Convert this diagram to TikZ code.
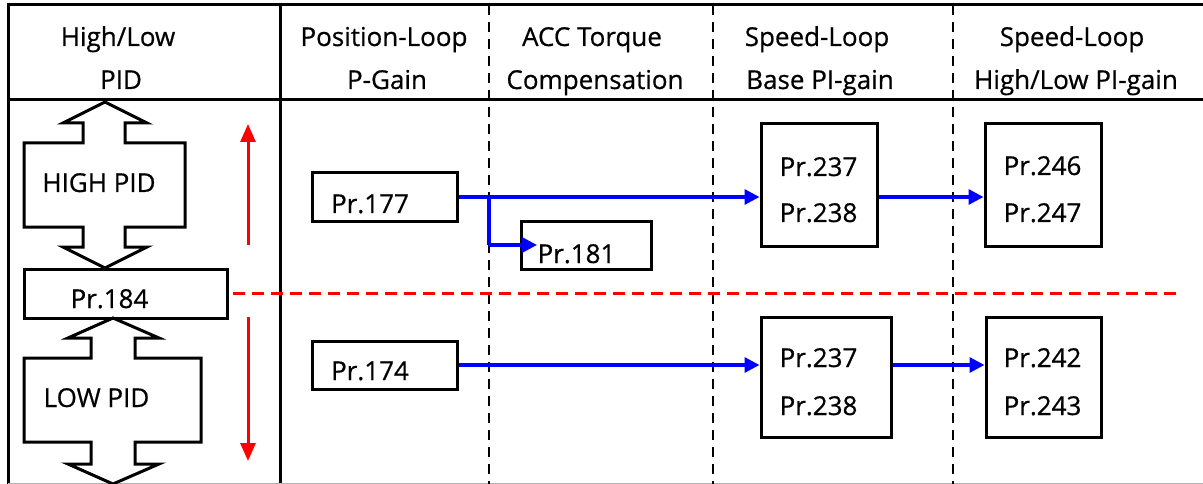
\documentclass[tikz,border=0pt]{standalone}
\usepackage{fontspec}
\setmainfont{Open Sans}
\newfontfamily\lblfont{Open Sans}[FakeBold=0.6]
\usetikzlibrary{arrows.meta}
\tikzset{
  lbl/.style={font=\lblfont\fontsize{26}{30}\selectfont, anchor=base, inner sep=0pt},
  pbox/.style={draw, line width=3pt, inner sep=0pt},
  frameline/.style={line width=3pt},
  coldash/.style={line width=2.5pt, dash pattern=on 10pt off 7pt},
  blarrow/.style={draw=blue, line width=3.2pt, -{Triangle[length=15pt,width=15pt]}},
  blline/.style={draw=blue, line width=3.2pt},
  rarrow/.style={draw=red, line width=3pt, -{Triangle[length=18pt,width=15pt]}},
  rdash/.style={draw=red, line width=3pt, dash pattern=on 12pt off 7pt},
  dblarrow/.style={draw, line width=3pt, line join=miter},
}
\begin{document}
\begin{tikzpicture}[x=1pt,y=-1pt]
\useasboundingbox (0,0) rectangle (1203,484);
\fill[white] (0,0) rectangle (1203,484);
% frame
\draw[frameline] (8,484) -- (8,5) -- (1203,5);
\draw[frameline] (8,100) -- (1203,100);
\draw[frameline] (280,5) -- (280,484);
\draw[gray!60, line width=1pt] (8,483.5) -- (1203,483.5);
\draw[coldash] (489,5) -- (489,484);
\draw[coldash] (713,5) -- (713,484);
\draw[coldash] (953,5) -- (953,484);
% headers
\node[lbl] (h1a) at (118,46) {High/Low};
\node[lbl] (h1b) at (121,89) {PID};
\node[lbl] (h2a) at (384,46) {Position-Loop};
\node[lbl] (h2b) at (387,89) {P-Gain};
\node[lbl] (h3a) at (592,46) {ACC Torque};
\node[lbl] (h3b) at (595,89) {Compensation};
\node[lbl] (h4a) at (817,46) {Speed-Loop};
\node[lbl] (h4b) at (820,89) {Base PI-gain};
\node[lbl] (h5a) at (1072,46) {Speed-Loop};
\node[lbl] (h5b) at (1076,89) {High/Low PI-gain};
% left column double arrows
\draw[dblarrow] (105,102) -- (147,123) -- (125,123) -- (125,143) -- (185,143) -- (185,227) -- (125,227) -- (125,247) -- (147,247) -- (105,268) -- (63,247) -- (83,247) -- (83,227) -- (24,227) -- (24,143) -- (83,143) -- (83,123) -- (63,123) -- cycle;
\node[lbl] (thigh) at (99,192) {HIGH PID};
\node[pbox, minimum width=203pt, minimum height=49pt] (p184) at (125.5,293.5) {};
\node[lbl] (t184) at (109.5,308) {Pr.184};
\draw[dblarrow] (113,318) -- (159,338) -- (135,338) -- (135,358) -- (201,358) -- (201,442) -- (135,442) -- (135,464) -- (159,464) -- (113,484) -- (68,464) -- (91,464) -- (91,442) -- (24,442) -- (24,358) -- (91,358) -- (91,338) -- (68,338) -- cycle;
\node[lbl] (tlow) at (96.5,407) {LOW PID};
% red arrows and dashed line
\coordinate (ru0) at (248,245);
\coordinate (ru1) at (248,124);
\coordinate (rd0) at (248,317);
\coordinate (rd1) at (248,461);
\draw[rarrow] (ru0) -- (ru1);
\draw[rarrow] (rd0) -- (rd1);
\coordinate (rl0) at (233,293);
\coordinate (rl1) at (1180,293);
\draw[rdash] (rl0) -- (rl1);
% upper boxes
\node[pbox, minimum width=145pt, minimum height=48pt] (p177) at (384.5,197) {};
\node[lbl] (t177) at (370,213) {Pr.177};
\node[pbox, minimum width=130pt, minimum height=48pt] (p181) at (586,245) {};
\node[lbl] (t181) at (576.5,263) {Pr.181};
\node[pbox, minimum width=116pt, minimum height=122pt] (b1) at (819,185) {};
\node[lbl] (t237a) at (818.5,176) {Pr.237};
\node[lbl] (t238a) at (818.5,222) {Pr.238};
\node[pbox, minimum width=116pt, minimum height=122pt] (b2) at (1043,185) {};
\node[lbl] (t246) at (1042.5,175) {Pr.246};
\node[lbl] (t247) at (1042.5,222) {Pr.247};
% lower boxes
\node[pbox, minimum width=145pt, minimum height=48pt] (p174) at (384.5,365) {};
\node[lbl] (t174) at (370,380) {Pr.174};
\node[pbox, minimum width=130pt, minimum height=120pt] (b3) at (826,377) {};
\node[lbl] (t237b) at (818.5,367) {Pr.237};
\node[lbl] (t238b) at (818.5,415) {Pr.238};
\node[pbox, minimum width=115pt, minimum height=120pt] (b4) at (1043.5,377) {};
\node[lbl] (t242) at (1042.5,367) {Pr.242};
\node[lbl] (t243) at (1042.5,415) {Pr.243};
% blue connectors
\coordinate (jn) at (489,197);
\coordinate (tip181) at (537,245);
\draw[blarrow] (p177.east) -- (p177.east -| b1.west);
\draw[blline] (jn) -- (jn |- tip181);
\draw[blarrow] (jn |- tip181) -- (tip181);
\draw[blarrow] (b1.east |- p177.east) -- (b2.west |- p177.east);
\draw[blarrow] (p174.east) -- (p174.east -| b3.west);
\draw[blarrow] (b3.east |- p174.east) -- (b4.west |- p174.east);
\end{tikzpicture}
\end{document}
